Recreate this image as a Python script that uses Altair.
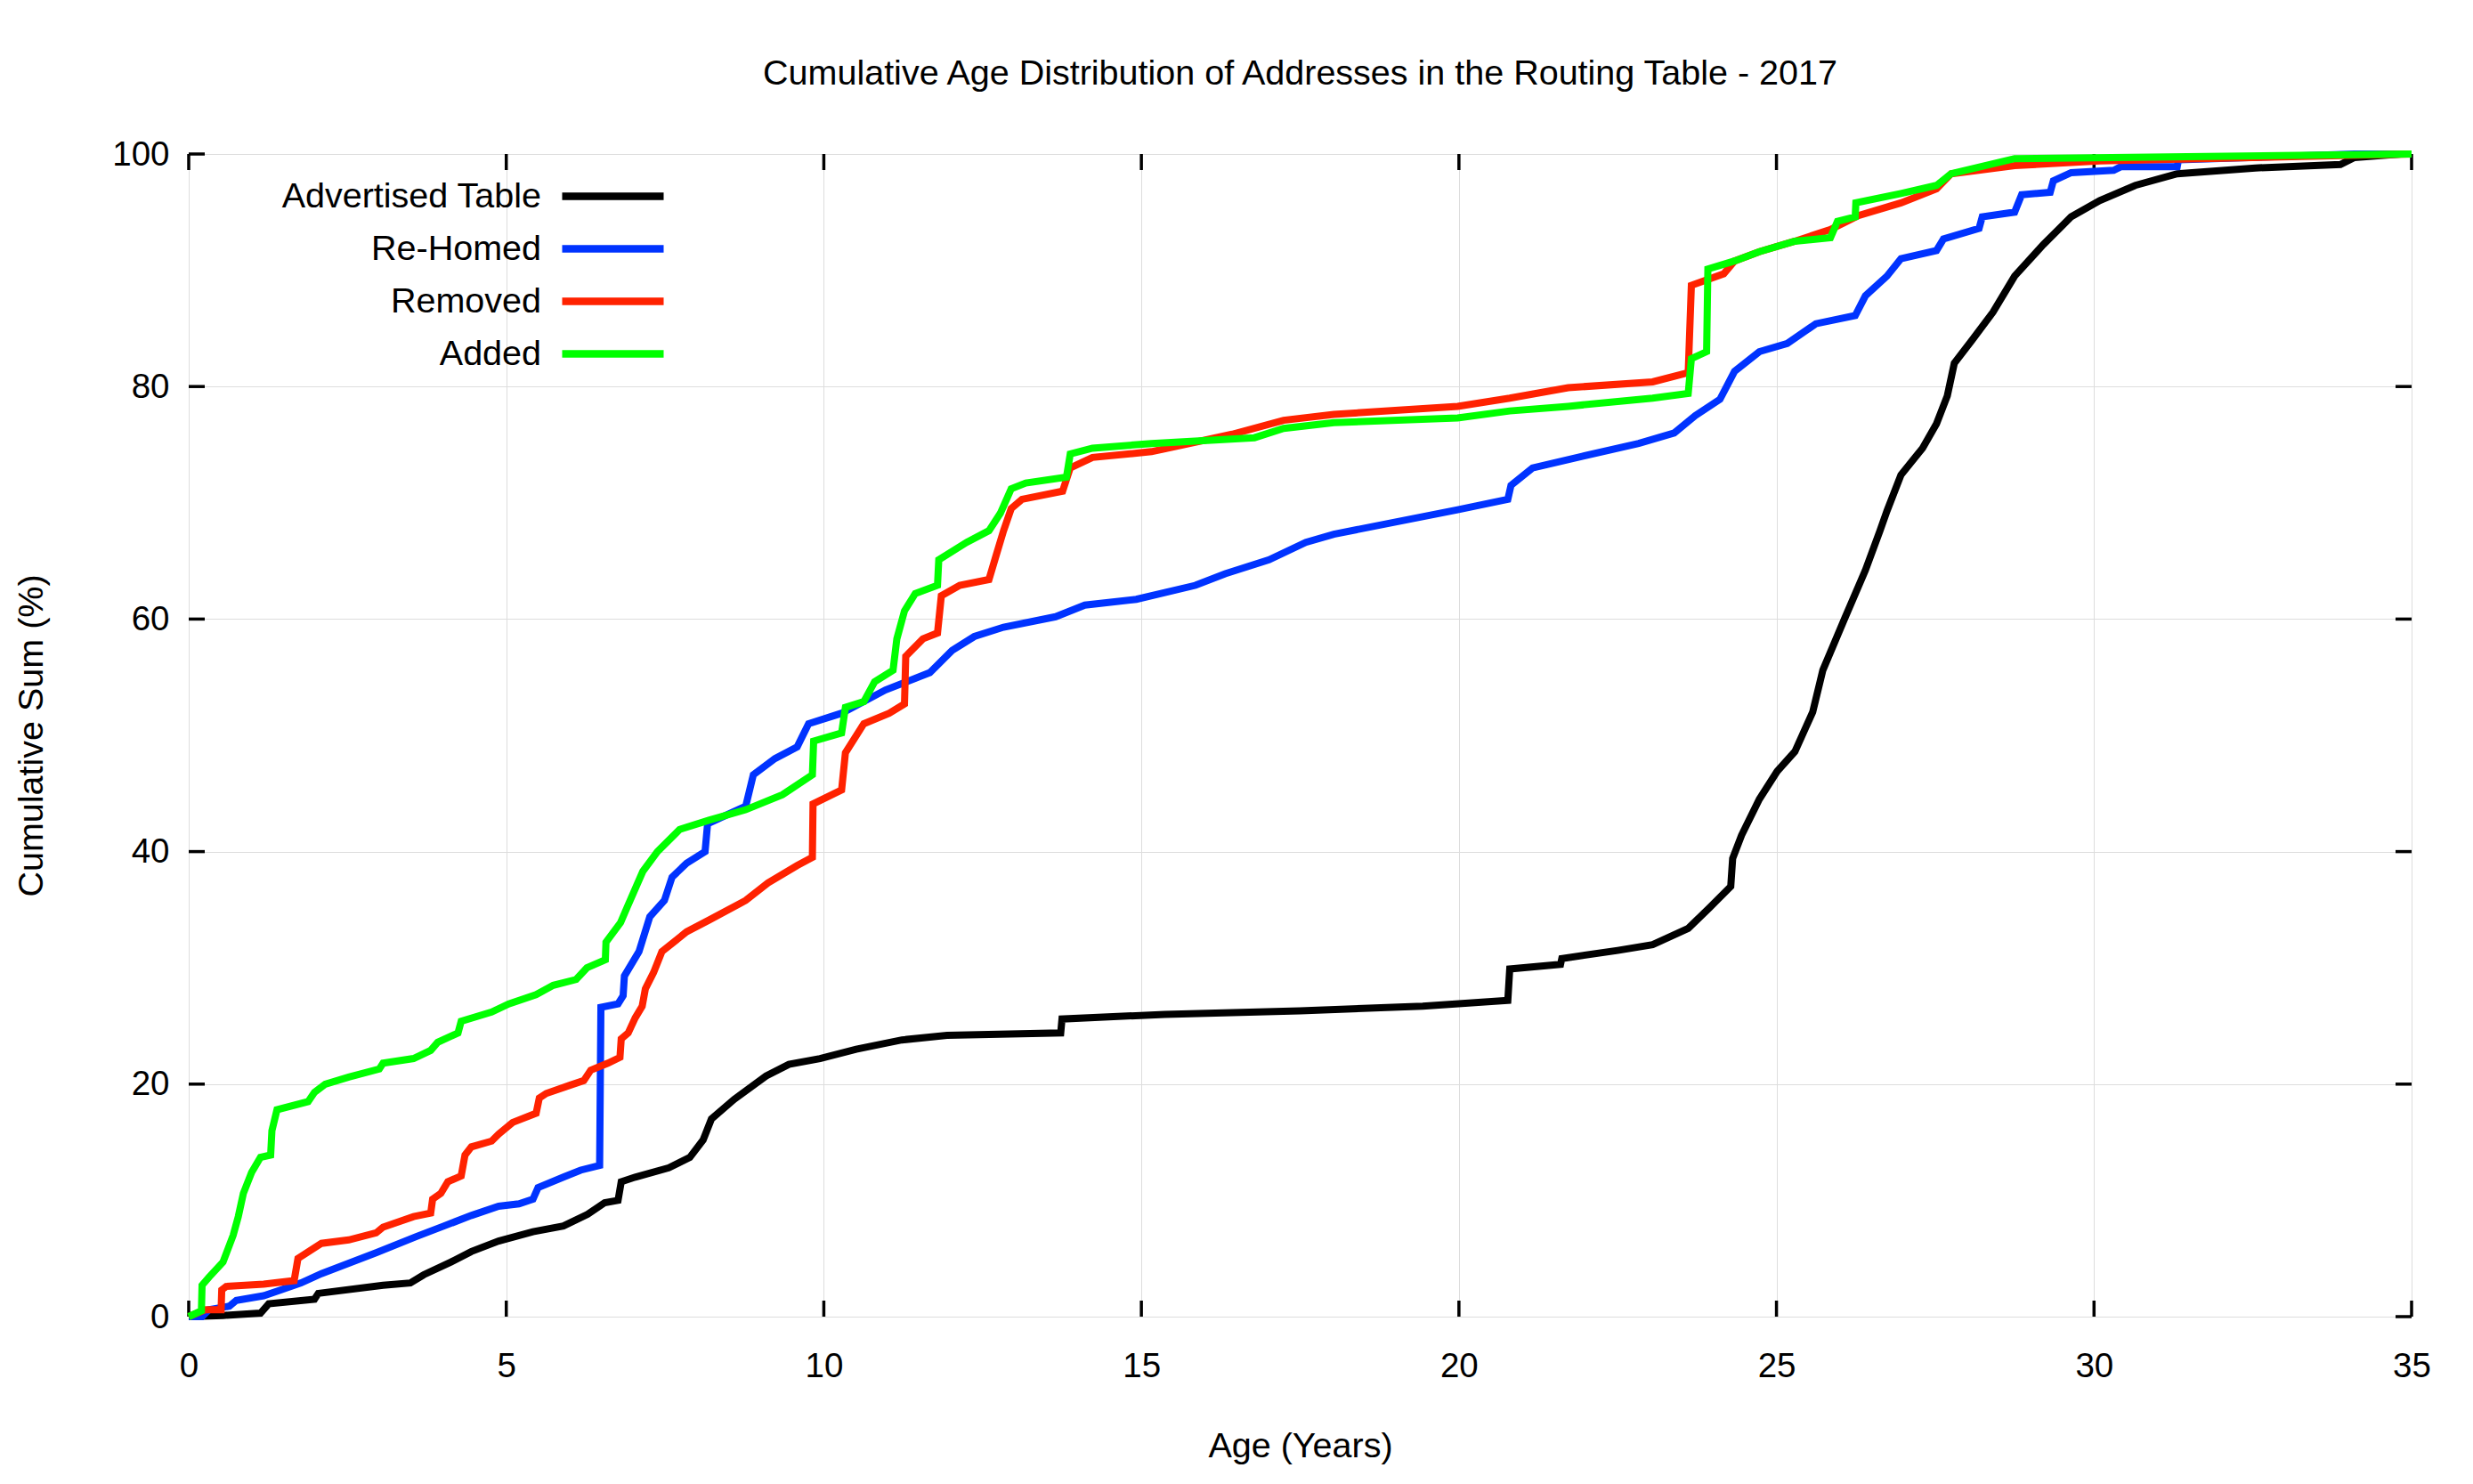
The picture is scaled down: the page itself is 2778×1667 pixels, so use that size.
import altair as alt
import pandas as pd

TITLE = "Cumulative Age Distribution of Addresses in the Routing Table - 2017"
X_TITLE = "Age (Years)"
Y_TITLE = "Cumulative Sum (%)"
SERIES = ["Advertised Table", "Re-Homed", "Removed", "Added"]
COLORS = ["#000000", "#0033ff", "#ff2200", "#00ff00"]
X_TICKS = [0, 5, 10, 15, 20, 25, 30, 35]
Y_TICKS = [0, 20, 40, 60, 80, 100]

# (age in years, cumulative %)
ADVERTISED = [
    (0, 0), (0.54, 0.1), (1.13, 0.3), (1.26, 1.1), (1.98, 1.5), (2.04, 2.0), (3.06, 2.7),
    (3.49, 2.9), (3.7, 3.6), (4.13, 4.7), (4.45, 5.6), (4.88, 6.5), (5.42, 7.3), (5.9, 7.8),
    (6.28, 8.8), (6.55, 9.8), (6.76, 10.0), (6.81, 11.6), (7.03, 12.0), (7.56, 12.8),
    (7.89, 13.7), (8.1, 15.2), (8.23, 17.0), (8.59, 18.7), (9.09, 20.7), (9.45, 21.7),
    (9.94, 22.2), (10.51, 23.0), (11.23, 23.8), (11.94, 24.2), (13.73, 24.4), (13.75, 25.6),
    (15.37, 26.0), (17.5, 26.3), (19.43, 26.7), (20.77, 27.2), (20.8, 29.9), (21.6, 30.3),
    (21.62, 30.8), (22.5, 31.5), (23.05, 32.0), (23.61, 33.4), (23.95, 35.2), (24.28, 37.0),
    (24.31, 39.4), (24.45, 41.4), (24.73, 44.5), (25.01, 46.9), (25.29, 48.6), (25.57, 52.0),
    (25.73, 55.6), (26.07, 60.0), (26.4, 64.2), (26.63, 67.6), (26.74, 69.3), (26.96, 72.4),
    (27.3, 74.7), (27.52, 76.8), (27.69, 79.2), (27.8, 82.0), (28.08, 84.0), (28.41, 86.4),
    (28.75, 89.5), (29.2, 92.2), (29.64, 94.6), (30.09, 96.0), (30.65, 97.3), (31.31, 98.3),
    (32.54, 98.8), (33.88, 99.1), (34.1, 99.7), (34.83, 100), (35, 100),
]
REHOMED = [
    (0, 0), (0.21, 0), (0.32, 0.6), (0.64, 0.9), (0.75, 1.4), (1.18, 1.8), (1.45, 2.3),
    (1.77, 2.9), (2.09, 3.7), (2.52, 4.6), (2.95, 5.5), (3.59, 6.9), (4.02, 7.8), (4.45, 8.7),
    (4.88, 9.5), (5.2, 9.7), (5.42, 10.1), (5.5, 11.1), (5.9, 12.0), (6.17, 12.6), (6.47, 13.0),
    (6.49, 26.6), (6.76, 26.9), (6.84, 27.6), (6.86, 29.3), (7.09, 31.4), (7.26, 34.4),
    (7.49, 35.8), (7.61, 37.8), (7.84, 39.0), (8.13, 40.0), (8.17, 42.4), (8.77, 43.9),
    (8.89, 46.6), (9.23, 48.0), (9.58, 49.0), (9.76, 51.0), (10.28, 51.9), (10.97, 53.9),
    (11.44, 54.9), (11.67, 55.4), (12.02, 57.3), (12.37, 58.5), (12.83, 59.3), (13.65, 60.2),
    (14.11, 61.2), (14.92, 61.7), (15.85, 62.9), (16.32, 63.9), (17.01, 65.1), (17.59, 66.6),
    (18.03, 67.3), (19.98, 69.4), (20.77, 70.3), (20.82, 71.5), (21.16, 73.0), (21.94, 74.0),
    (22.83, 75.1), (23.39, 76.0), (23.72, 77.5), (24.11, 78.9), (24.34, 81.3), (24.73, 83.0),
    (25.17, 83.7), (25.62, 85.4), (26.24, 86.1), (26.4, 87.8), (26.74, 89.5), (26.96, 91.0),
    (27.52, 91.7), (27.63, 92.7), (28.19, 93.6), (28.24, 94.6), (28.75, 95.0), (28.86, 96.5),
    (29.31, 96.7), (29.36, 97.7), (29.64, 98.4), (30.31, 98.6), (30.42, 98.9), (31.31, 98.9),
    (31.33, 99.5), (34.1, 100), (35, 100),
]
REMOVED = [
    (0, 0), (0.27, 0.6), (0.51, 0.6), (0.52, 2.3), (0.59, 2.6), (1.18, 2.8), (1.66, 3.1),
    (1.72, 5.0), (2.09, 6.3), (2.52, 6.6), (2.95, 7.2), (3.06, 7.7), (3.54, 8.6), (3.81, 8.9),
    (3.84, 10.1), (3.97, 10.6), (4.08, 11.6), (4.29, 12.1), (4.35, 13.9), (4.45, 14.6),
    (4.77, 15.1), (4.88, 15.7), (5.10, 16.7), (5.47, 17.5), (5.52, 18.8), (5.63, 19.2),
    (6.0, 19.9), (6.22, 20.3), (6.33, 21.2), (6.6, 21.8), (6.79, 22.3), (6.81, 23.9),
    (6.92, 24.4), (7.03, 25.7), (7.14, 26.7), (7.19, 28.2), (7.32, 29.6), (7.45, 31.4),
    (7.84, 33.1), (8.19, 34.1), (8.77, 35.8), (9.12, 37.3), (9.58, 38.8), (9.82, 39.5),
    (9.83, 44.1), (10.28, 45.3), (10.34, 48.5), (10.63, 51.0), (11.03, 51.9), (11.27, 52.7),
    (11.29, 56.8), (11.56, 58.3), (11.79, 58.8), (11.85, 62.0), (12.14, 62.9), (12.6, 63.4),
    (12.72, 65.6), (12.83, 67.6), (12.95, 69.5), (13.12, 70.3), (13.76, 71.0), (13.88, 73.0),
    (14.23, 73.9), (15.16, 74.4), (16.43, 75.9), (17.24, 77.1), (18.03, 77.6), (19.98, 78.3),
    (20.8, 79.0), (21.72, 79.9), (23.05, 80.4), (23.61, 81.2), (23.66, 88.7), (24.17, 89.7),
    (24.34, 90.8), (24.73, 91.6), (25.29, 92.5), (25.85, 93.5), (26.29, 94.7), (26.96, 95.8),
    (27.52, 97.0), (27.75, 98.3), (28.75, 99.0), (30.09, 99.4), (35, 100),
]
ADDED = [
    (0, 0), (0.2, 0.5), (0.21, 2.7), (0.32, 3.4), (0.54, 4.7), (0.70, 7.0), (0.78, 8.6),
    (0.86, 10.6), (0.99, 12.4), (1.13, 13.7), (1.29, 13.9), (1.31, 16.0), (1.39, 17.8),
    (1.88, 18.5), (1.98, 19.3), (2.15, 20.0), (2.52, 20.6), (3.0, 21.3), (3.06, 21.8),
    (3.54, 22.2), (3.81, 22.9), (3.92, 23.6), (4.24, 24.4), (4.29, 25.4), (4.77, 26.2),
    (5.04, 26.9), (5.47, 27.7), (5.74, 28.5), (6.1, 29.0), (6.27, 30.0), (6.56, 30.7),
    (6.57, 32.2), (6.80, 33.9), (6.91, 35.3), (7.15, 38.3), (7.38, 40.0), (7.73, 41.9),
    (8.19, 42.7), (8.77, 43.6), (9.35, 44.9), (9.82, 46.6), (9.84, 49.5), (10.28, 50.2),
    (10.34, 52.4), (10.63, 52.9), (10.8, 54.6), (11.09, 55.6), (11.15, 58.3), (11.27, 60.7),
    (11.44, 62.2), (11.79, 62.9), (11.81, 65.1), (12.25, 66.6), (12.6, 67.6), (12.78, 69.1),
    (12.95, 71.2), (13.18, 71.7), (13.82, 72.2), (13.88, 74.2), (14.23, 74.7), (15.16, 75.1),
    (16.78, 75.6), (17.24, 76.4), (18.03, 76.9), (19.98, 77.3), (20.8, 77.9), (21.72, 78.3),
    (23.05, 79.0), (23.61, 79.4), (23.66, 82.4), (23.9, 83.0), (23.92, 90.1), (24.34, 90.8),
    (24.73, 91.6), (25.29, 92.5), (25.85, 92.8), (25.96, 94.2), (26.24, 94.6), (26.25, 95.8),
    (26.96, 96.6), (27.52, 97.3), (27.75, 98.3), (28.75, 99.6), (35, 100),
]

rows = []
for name, pts in zip(SERIES, [ADVERTISED, REHOMED, REMOVED, ADDED]):
    for i, (t, v) in enumerate(pts):
        rows.append({"series": name, "age": t, "cum": v, "i": i})
df = pd.DataFrame(rows)

W, H = 2497, 1306
FONT = "Liberation Sans"
FS = 38.5
TFS = 39.5
TICK = 18

xscale = alt.Scale(domain=[0, 35], nice=False, zero=False)
yscale = alt.Scale(domain=[0, 100], nice=False, zero=False)

x_axis = alt.Axis(
    values=X_TICKS, format="d", title=X_TITLE, grid=True, ticks=False, tickSize=0,
    domain=False, labelFontSize=FS, labelFont=FONT, labelColor="black", labelPadding=37,
    labelFlush=False, labelOverlap=False, titleFontSize=TFS, titleFont=FONT,
    titleFontWeight="normal", titleColor="black", titleY=157, titleBaseline="alphabetic",
)
y_axis = alt.Axis(
    values=Y_TICKS, format="d", title=Y_TITLE, grid=True, ticks=False, tickSize=0,
    domain=False, labelFontSize=FS, labelFont=FONT, labelColor="black", labelPadding=22,
    labelFlush=False, labelOverlap=False, titleFontSize=TFS, titleFont=FONT,
    titleFontWeight="normal", titleColor="black", titleAngle=270, titleX=-165, titleY=653,
    titleBaseline="alphabetic", titleAlign="center",
)
X = alt.X("age:Q", scale=xscale, axis=x_axis)
Y = alt.Y("cum:Q", scale=yscale, axis=y_axis)

# legend sample: a long horizontal stroke (path in unit coords, 3x the symbol box)
LEGEND_STROKE = "M-3,0L3,0"

lines = alt.Chart(df).mark_line(strokeWidth=8, strokeCap="butt").encode(
    x=X,
    y=Y,
    color=alt.Color(
        "series:N",
        scale=alt.Scale(domain=SERIES, range=COLORS),
        legend=alt.Legend(
            title=None, orient="none", legendX=453, legendY=24,
            direction="vertical", symbolType=LEGEND_STROKE, symbolSize=1444,
            symbolStrokeWidth=8.5, symbolFillColor="transparent",
            rowPadding=16, labelAlign="right",
            labelOffset=alt.ExprRef(expr="-104"), labelFontSize=TFS, labelFont=FONT,
            labelColor="black", padding=0, labelLimit=800,
        ),
    ),
    order=alt.Order("i:Q"),
)

xt = pd.DataFrame({"age": X_TICKS})
yt = pd.DataFrame({"cum": Y_TICKS})
tick_style = dict(color="black", strokeWidth=3.5)
x_bottom = alt.Chart(xt).mark_rule(**tick_style).encode(x=X, y=alt.value(H), y2=alt.value(H - TICK))
x_top = alt.Chart(xt).mark_rule(**tick_style).encode(x=X, y=alt.value(0), y2=alt.value(TICK))
y_left = alt.Chart(yt).mark_rule(**tick_style).encode(y=Y, x=alt.value(0), x2=alt.value(TICK))
y_right = alt.Chart(yt).mark_rule(**tick_style).encode(y=Y, x=alt.value(W - TICK), x2=alt.value(W))

chart = alt.layer(x_bottom, x_top, y_left, y_right, lines).properties(
    width=W,
    height=H,
    autosize=alt.AutoSizeParams(type="none"),
    padding={"left": 204, "top": 165, "right": 61, "bottom": 180},
    title=alt.TitleParams(
        TITLE, fontSize=TFS, font=FONT, fontWeight="normal", color="black",
        anchor="middle", baseline="alphabetic", offset=20, frame="group",
    ),
).configure_view(
    stroke="black", strokeWidth=4,
).configure_axis(
    gridColor="#d9d9d9", gridWidth=1.5,
).configure(background="white")

chart.save("out.html", embed_options={"renderer": "svg", "actions": False})
